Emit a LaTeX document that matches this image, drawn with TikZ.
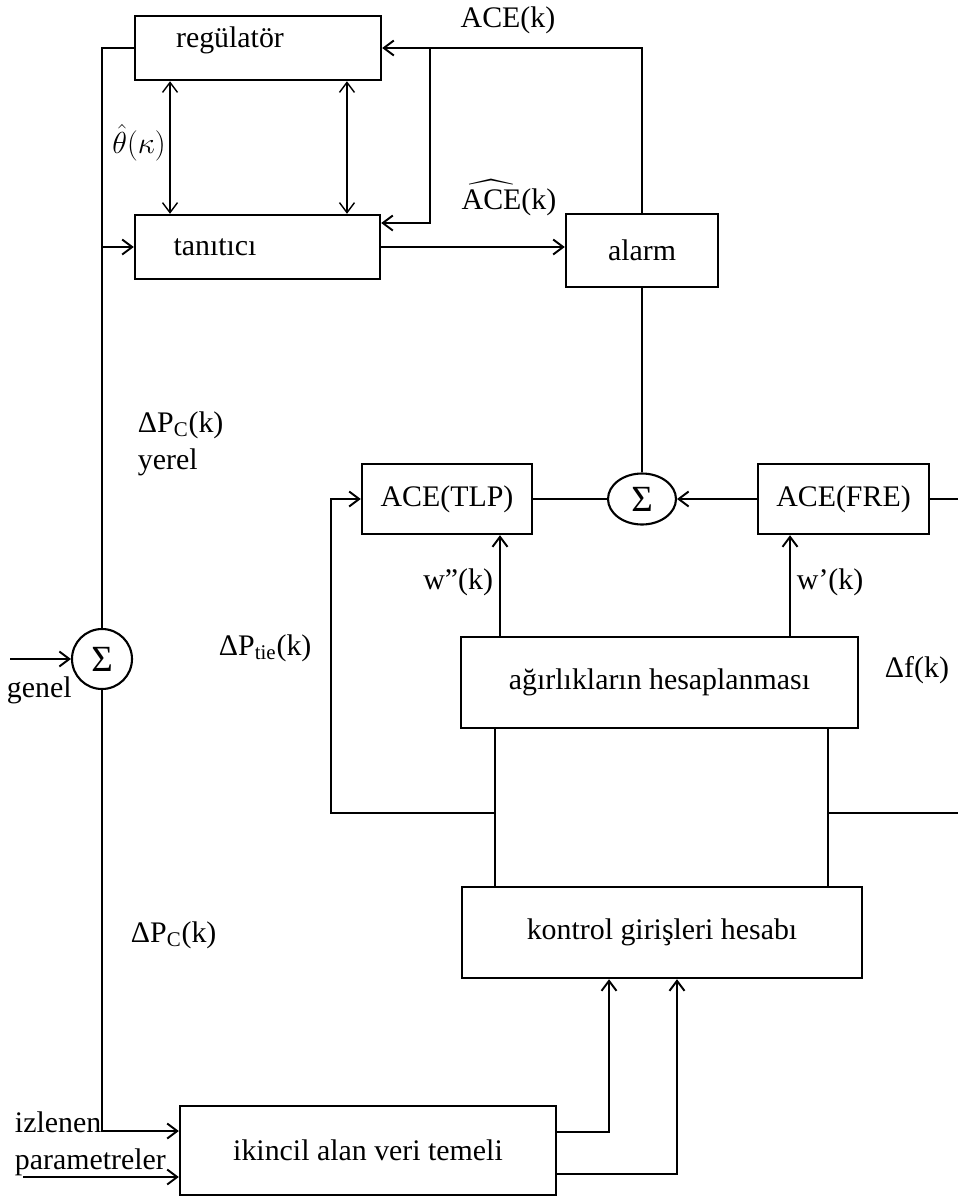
\documentclass[tikz,border=0pt]{standalone}
\usepackage{fontspec}
\usepackage{amsmath}
\setmainfont{Liberation Serif}
\usetikzlibrary{arrows.meta, calc, shapes.geometric}
\tikzset{
  every picture/.style={line width=1.1pt, font=\fontsize{17}{20}\selectfont},
  box/.style 2 args={draw, line width=1.4pt, minimum width=#1, minimum height=#2, inner sep=0pt},
  sumnode/.style={draw, ellipse, line width=1.2pt, inner sep=0pt, font=\fontsize{21}{24}\selectfont},
  arrow/.style={-{Straight Barb[length=2mm, width=3mm]}},
  biarrow/.style={{Straight Barb[length=2mm, width=3mm]}-{Straight Barb[length=2mm, width=3mm]}, line width=0.8pt},
  lbl/.style={inner sep=0pt},
}

\begin{document}
\begin{tikzpicture}[x=0.02cm, y=-0.02cm]
  \useasboundingbox (0,0) rectangle (958,1198);
  % blocks
  \node[box={4.92cm}{1.28cm}, label={[lbl, xshift=-0.56cm, yshift=0.16cm]center:regülatör}] (reg) at (258,48) {};
  \node[box={4.9cm}{1.28cm}, label={[lbl, xshift=-0.85cm]center:tanıtıcı}] (tan) at (257.5,247) {};
  \node[box={3.04cm}{1.46cm}] (alarm) at (642,250.5) {alarm};
  \node[box={3.4cm}{1.4cm}] (tlp) at (447,499) {ACE(TLP)};
  \node[sumnode, minimum width=1.36cm, minimum height=1.02cm] (sum2) at (642,499) {Σ};
  \node[box={3.42cm}{1.4cm}] (fre) at (843.5,499) {ACE(FRE)};
  \node[box={7.94cm}{1.82cm}] (agir) at (659.5,682.5) {ağırlıkların hesaplanması};
  \node[box={8cm}{1.82cm}] (kontrol) at (662,932.5) {kontrol girişleri hesabı};
  \node[box={7.52cm}{1.78cm}] (ikincil) at (368,1150.5) {ikincil alan veri temeli};
  \node[sumnode, minimum size=1.2cm] (sum1) at (102,659) {Σ};

  % free ends and junctions
  \coordinate (tap) at (430,48);
  \coordinate (gen) at (10,659);
  \coordinate (par) at (23,1177);
  \coordinate (fout) at (958,499);
  \coordinate (tieL) at (495,813);
  \coordinate (tieR) at (828,813);
  \coordinate (dfin) at (958,813);

  % upper loop
  \draw[arrow] (alarm.north) |- (reg.east);
  \draw[arrow] (tap) |- ([yshift=0.48cm]tan.east);
  \draw[arrow] (tan.east) -- (tan.east -| alarm.west);
  \draw[biarrow] ([xshift=-1.76cm]reg.south) -- ([xshift=-1.76cm]reg.south |- tan.north);
  \draw[biarrow] ([xshift=1.78cm]reg.south) -- ([xshift=1.78cm]reg.south |- tan.north);

  % left bus
  \draw (reg.west) -| (sum1.north);
  \draw[arrow] (sum1.north |- tan.west) -- (tan.west);
  \draw[arrow] (gen) -- (sum1.west);
  \draw[arrow] (sum1.south) |- ([yshift=0.39cm]ikincil.west);
  \draw[arrow] (par) -- (par -| ikincil.west);

  % middle
  \draw (alarm.south) -- (sum2.north);
  \draw (tlp.east) -- (sum2.west);
  \draw[arrow] (fre.west) -- (sum2.east);
  \draw (fre.east) -- (fout);
  \draw[arrow] ([xshift=1.06cm]tlp.south |- agir.north) -- ([xshift=1.06cm]tlp.south);
  \draw[arrow] ([xshift=-1.07cm]fre.south |- agir.north) -- ([xshift=-1.07cm]fre.south);
  \draw ([xshift=-3.29cm]agir.south) -- ([xshift=-3.29cm]agir.south |- kontrol.north);
  \draw ([xshift=3.37cm]agir.south) -- ([xshift=3.37cm]agir.south |- kontrol.north);
  \draw[arrow] (tieL) -| ([xshift=-0.6cm]tlp.west) -- (tlp.west);
  \draw (tieR) -- (dfin);

  % bottom
  \draw[arrow] ([yshift=0.37cm]ikincil.east) -| ([xshift=-1.06cm]kontrol.south);
  \draw[arrow] ([yshift=-0.47cm]ikincil.east) -| ([xshift=0.3cm]kontrol.south);

  % signal labels
  \node[lbl] (lace) at (508,20) {ACE(k)};
  \node[lbl] (lacehat) at (509,198) {$\widehat{\text{ACE}}$(k)};
  \node[lbl] (ltheta) at (139,143) {$\hat{\theta}(\kappa)$};
  \node[lbl, anchor=west] (lpcy) at (137,425) {ΔP\textsubscript{C}(k)};
  \node[lbl, anchor=west] (lyerel) at (137,462) {yerel};
  \node[lbl, anchor=west] (lptie) at (218,648) {ΔP\textsubscript{tie}(k)};
  \node[lbl, anchor=west] (lpc) at (130,935) {ΔP\textsubscript{C}(k)};
  \node[lbl, anchor=west] (ldf) at (884,670) {Δf(k)};
  \node[lbl, anchor=east] (lw2) at (494,582) {w"(k)};
  \node[lbl, anchor=west] (lw1) at (796,582) {w'(k)};
  \node[lbl, anchor=west] (lizl) at (14,1122) {izlenen};
  \node[lbl, anchor=west] (lpar) at (14,1162) {parametreler};
  \node[lbl, anchor=west] (lgen) at (6,690) {genel};
\end{tikzpicture}
\end{document}
